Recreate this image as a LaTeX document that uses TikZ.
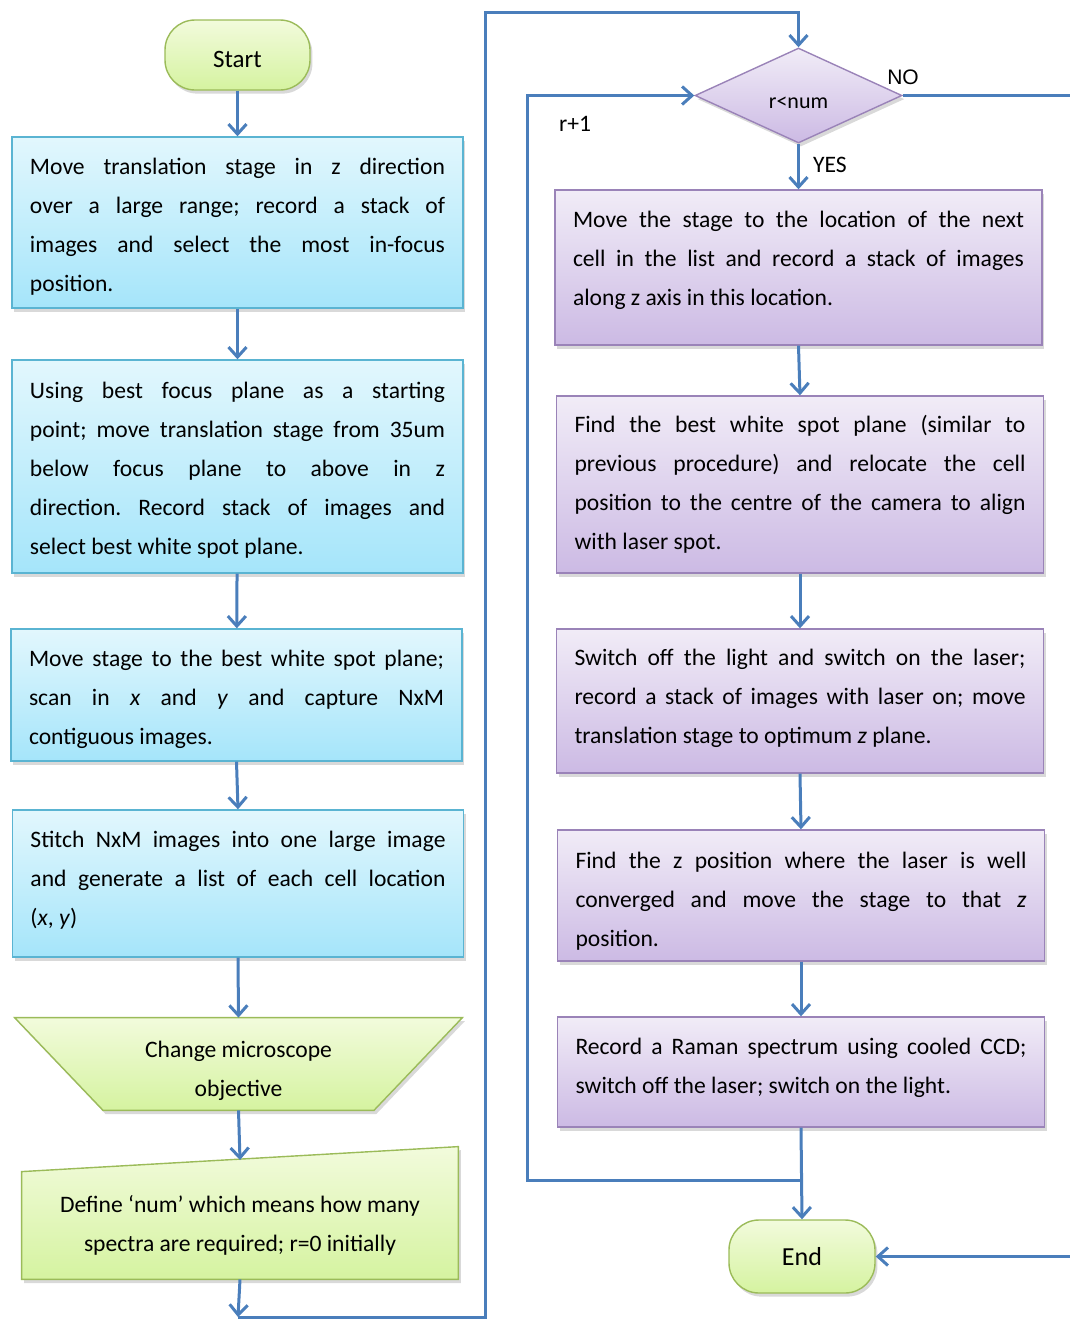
\documentclass[tikz,border=0pt]{standalone}
\usepackage{fontspec}
\setmainfont{Carlito}
\usetikzlibrary{shapes.geometric,arrows.meta,shadows,backgrounds}
\definecolor{flowblue}{HTML}{4A7EBB}
\definecolor{bluedge}{HTML}{5AB4D2}
\definecolor{bluetop}{HTML}{E2F7FD}
\definecolor{bluebot}{HTML}{A5E5FA}
\definecolor{purpedge}{HTML}{9A83B8}
\definecolor{purptop}{HTML}{F1ECF7}
\definecolor{purpbot}{HTML}{CCBAE4}
\definecolor{greenedge}{HTML}{9BBB59}
\definecolor{greentop}{HTML}{F2FBDC}
\definecolor{greenbot}{HTML}{D5F3A0}
\newcommand{\txtdown}[1]{\rule{0pt}{#1}}
\newcommand{\txtup}[1]{\rule[-#1]{0pt}{0pt}}
\tolerance=10000
\hbadness=10000
\hyphenpenalty=10000
\frenchspacing

\begin{document}
\begin{tikzpicture}[x=0.5pt, y=-0.5pt, every node/.style={font=\fontsize{11.8}{19.5}\selectfont}]

\useasboundingbox (0,0) rectangle (1070,1319);
\clip (0,0) rectangle (1070,1319);

\tikzset{boxshadow/.style={drop shadow={opacity=0.3, shadow xshift=1.2pt, shadow yshift=-1.8pt}}}
\tikzset{bluebox/.style={draw=bluedge, line width=0.7pt, top color=bluetop, bottom color=bluebot, boxshadow, text width=207.5pt, align=justify, inner xsep=9pt, inner ysep=0pt}}
\tikzset{purpbox/.style={draw=purpedge, line width=0.7pt, top color=purptop, bottom color=purpbot, boxshadow, text width=225.5pt, align=justify, inner xsep=9pt, inner ysep=0pt}}
\tikzset{greenshape/.style={draw=greenedge, line width=0.7pt, top color=greentop, bottom color=greenbot, boxshadow}}
\tikzset{termbox/.style={greenshape, rounded corners=15pt, font=\fontsize{12.5}{14}\selectfont}}
\tikzset{flowarrow/.style={-{Straight Barb[length=5pt,width=9pt]}, line width=1.5pt, draw=flowblue}}

\node[termbox, minimum width=72.5pt, minimum height=35pt, text height=12pt, text depth=0pt] (start) at (237.5, 55) {Start};

\node[bluebox, minimum height=85.5pt] (zscan) at (237.5, 222.5) {\txtdown{12pt}Move translation stage in z direction \linebreak over a large range; record a stack of \linebreak images and select the most in-focus \linebreak position.};

\node[bluebox, minimum height=106.5pt] (spot) at (237.5, 466.5) {\txtdown{12pt}Using best focus plane as a starting \linebreak point; move translation stage from 35um \linebreak below focus plane to above in z \linebreak direction. Record stack of images and \linebreak select best white spot plane.};

\node[bluebox, minimum height=66pt] (grid) at (236.5, 695) {\txtdown{13pt}Move stage to the best white spot plane; \linebreak scan in \textit{x} and \textit{y} and capture NxM \linebreak contiguous images.};

\node[bluebox, minimum height=73.5pt] (stitch) at (238, 883.5) {Stitch NxM images into one large image \linebreak and generate a list of each cell location \linebreak (\textit{x}, \textit{y})\txtup{5pt}};

\node[minimum width=223.5pt, minimum height=46pt, align=center] (lens) at (238.5, 1064) {\txtdown{15pt}Change microscope\\objective};

\node[minimum width=218pt, minimum height=59.5pt, align=center] (numdef) at (240, 1219.5) {\txtdown{14pt}Define ‘num’ which means how many\\spectra are required; r=0 initially};

\begin{pgfonlayer}{background}
\path[greenshape] (lens.north west) -- (lens.north east) -- ([xshift=-44.25pt]lens.south east) -- ([xshift=44.25pt]lens.south west) -- cycle;
\path[greenshape] (numdef.south west) -- ([yshift=-6pt]numdef.north west) -- ([yshift=6.5pt]numdef.north east) -- (numdef.south east) -- cycle;
\end{pgfonlayer}

\node[diamond, draw=purpedge, line width=0.7pt, top color=purptop, bottom color=purpbot, boxshadow, minimum width=103.5pt, minimum height=47.5pt, aspect=2.18, inner sep=0pt, text height=13pt, text depth=0pt, font=\fontsize{11}{12}\selectfont] (check) at (798.5, 95.5) {r<num};

\node[purpbox, minimum height=77.5pt] (nextcell) at (798.5, 267.5) {Move the stage to the location of the next \linebreak cell in the list and record a stack of images \linebreak along z axis in this location.\txtup{9.5pt}};

\node[purpbox, minimum height=88.5pt] (relocate) at (800, 484.5) {Find the best white spot plane (similar to \linebreak previous procedure) and relocate the cell \linebreak position to the centre of the camera to align \linebreak with laser spot.};

\node[purpbox, minimum height=72pt] (laser) at (800, 701) {Switch off the light and switch on the laser; \linebreak record a stack of images with laser on; move \linebreak translation stage to optimum \textit{z} plane.\txtup{4.5pt}};

\node[purpbox, minimum height=65.5pt] (converge) at (801, 895.5) {\txtdown{14pt}Find the z position where the laser is well \linebreak converged and move the stage to that \textit{z} \linebreak position.};

\node[purpbox, minimum height=55pt] (raman) at (801, 1072) {Record a Raman spectrum using cooled CCD; \linebreak switch off the laser; switch on the light.\txtup{6.5pt}};

\node[termbox, minimum width=73pt, minimum height=36.5pt, font=\fontsize{13}{14}\selectfont] (finish) at (802, 1256.5) {End};

\node (yes) at (830, 165) {YES};
\node[font=\fontsize{10.5}{12}\selectfont\fontspec{Liberation Sans}] (no) at (903, 77) {NO};
\node (incr) at (575, 124) {r+1};

\coordinate (bottomturn) at (238, 1317);
\coordinate (loopjoin) at (801, 1180);

\path (start) edge [flowarrow] (zscan);
\path (zscan.south) edge [flowarrow] (spot.north);
\path (spot) edge [flowarrow] (grid);
\path (grid.south) edge [flowarrow] (stitch.north);
\path (stitch.south) edge [flowarrow] (lens.north);
\path (lens.south) edge [flowarrow] ([yshift=-0.2pt]numdef.north);
\path (numdef.south) edge [flowarrow] (bottomturn);
\draw[flowarrow] (bottomturn) -| ++(247,-1305) -| (check.north);
\path (check) edge [flowarrow] (nextcell);
\draw[flowarrow] (check.east) -- ++(180,0) |- (finish.east);
\path (nextcell.south) edge [flowarrow] (relocate.north);
\path (relocate) edge [flowarrow] (laser);
\path (laser.south) edge [flowarrow] (converge.north);
\path (converge) edge [flowarrow] (raman);
\path (raman.south) edge [flowarrow] (finish.north);
\draw[flowarrow] (loopjoin) -- ++(-274,0) |- (check.west);
\end{tikzpicture}
\end{document}
